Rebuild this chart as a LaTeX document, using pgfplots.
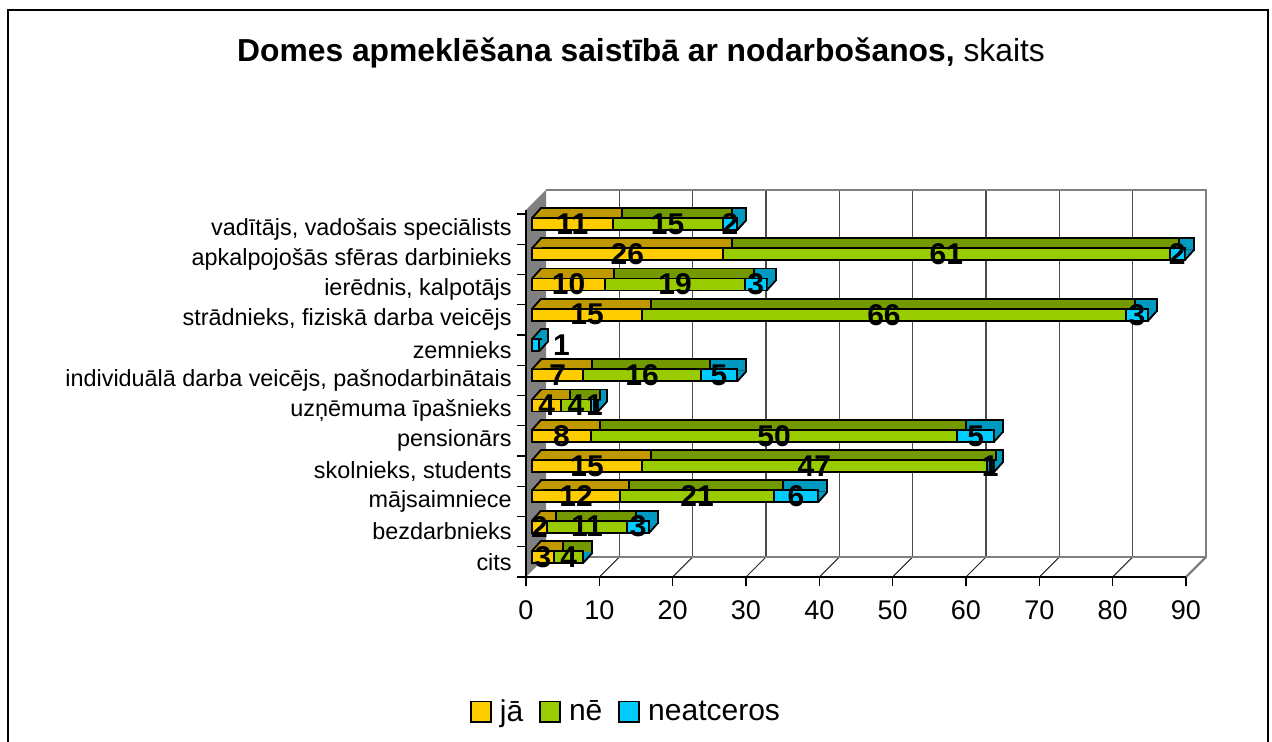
\documentclass[border=0pt]{standalone}
\usepackage{pgfplots}
\pgfplotsset{compat=1.18}
\usepackage{pgfplotstable}
\usepackage{fontspec}
\setmainfont{Liberation Sans}
\definecolor{jaF}{HTML}{FFCC00}
\definecolor{jaT}{HTML}{C09900}
\definecolor{neF}{HTML}{99CC00}
\definecolor{neT}{HTML}{739900}
\definecolor{ntF}{HTML}{00CCFF}
\definecolor{ntT}{HTML}{0099BF}
\definecolor{wallgray}{HTML}{808080}

% slanted left end of the top face
\pgfdeclareplotmark{leftface}{%
  \pgfpathmoveto{\pgfqpoint{0.45pt}{3.45pt}}%
  \pgfpathlineto{\pgfqpoint{4.05pt}{7.45pt}}%
  \pgfpathlineto{\pgfqpoint{4.95pt}{7.45pt}}%
  \pgfpathlineto{\pgfqpoint{4.95pt}{3.45pt}}%
  \pgfpathclose\pgfusepathqfill
  \pgfpathmoveto{\pgfqpoint{0pt}{3pt}}%
  \pgfpathlineto{\pgfqpoint{4.5pt}{8pt}}%
  \pgfusepathqstroke}
% slanted lower end of the right face
\pgfdeclareplotmark{rightface}{%
  \pgfpathmoveto{\pgfqpoint{0.45pt}{-2.5pt}}%
  \pgfpathlineto{\pgfqpoint{4.05pt}{1.5pt}}%
  \pgfpathlineto{\pgfqpoint{4.05pt}{2.5pt}}%
  \pgfpathlineto{\pgfqpoint{0.45pt}{2.5pt}}%
  \pgfpathclose\pgfusepathqfill
  \pgfpathmoveto{\pgfqpoint{0pt}{-3pt}}%
  \pgfpathlineto{\pgfqpoint{4.5pt}{2pt}}%
  \pgfusepathqstroke}

\pgfplotstableread{
k ja ne neat
0 3 4 0
1 2 11 3
2 12 21 6
3 15 47 1
4 8 50 5
5 4 4 1
6 7 16 5
7 0 0 1
8 15 66 3
9 10 19 3
10 26 61 2
11 11 15 2
}\counts

\pgfplotstableread{
x y lab
1.5 0 3
5 0 4
1 1 2
7.5 1 11
14.5 1 3
6 2 12
22.5 2 21
36 2 6
7.5 3 15
38.5 3 47
62.5 3 1
4 4 8
33 4 50
60.5 4 5
2 5 4
6 5 4
8.5 5 1
3.5 6 7
15 6 16
25.5 6 5
4 7 1
7.5 8 15
48 8 66
82.5 8 3
5 9 10
19.5 9 19
30.5 9 3
13 10 26
56.5 10 61
88 10 2
5.5 11 11
18.5 11 15
27 11 2
}\labels

\pgfplotsset{
  common/.style={
    scale only axis, width=330pt, height=183.5pt,
    xmin=0, xmax=90, ymin=-0.5, ymax=11.63,
    enlargelimits=false, clip=false,
  },
}

\begin{document}
\begin{tikzpicture}
\useasboundingbox (0,0) rectangle (636pt,371pt);
% frame
\draw[black, line width=1pt] (4pt,0pt) -- (4pt,366pt) -- (634pt,366pt) -- (634pt,0pt);
% title
\node[anchor=base, inner sep=0pt, font=\fontsize{15.9}{19}\selectfont] at (320.5pt,340pt)
  {\textbf{Domes apmeklēšana saistībā ar nodarbošanos,} skaits};

% ---------- background: walls, floor, axes ----------
\begin{axis}[common,
  at={(263pt,82.5pt)}, anchor=south west,
  axis x line*=bottom, axis y line*=left,
  axis line style={black, line width=0.6pt},
  xtick={0,10,...,90},
  ytick={-0.5,0.5,...,11.5},
  yticklabels={},
  extra y ticks={0,...,11},
  extra y tick labels={cits, bezdarbnieks, mājsaimniece, {skolnieks, students}, pensionārs, uzņēmuma īpašnieks, {individuālā darba veicējs, pašnodarbinātais}, zemnieks, {strādnieks, fiziskā darba veicējs}, {ierēdnis, kalpotājs}, apkalpojošās sfēras darbinieks, {vadītājs, vadošais speciālists}},
  extra y tick style={major tick length=0pt, yticklabel style={font=\fontsize{11.7}{13}\selectfont, anchor=east, inner sep=0pt, xshift=-7pt}},
  tick align=outside,
  major tick length=4.5pt,
  tick style={black, line width=0.6pt},
  xticklabel style={font=\fontsize{13.5}{16}\selectfont, yshift=-4pt},
  /pgf/number format/assume math mode=true,
  axis on top,
]
% side wall
\fill[wallgray] (axis cs:0,-0.5) -- (axis cs:0,11.63) -- ([shift={(10pt,10pt)}]axis cs:0,11.63) -- ([shift={(10pt,10pt)}]axis cs:0,-0.5) -- cycle;
% floor grid lines and back-wall grid lines
\pgfplotsinvokeforeach{10,20,30,40,50,60,70,80}{
  \draw[black!85, line width=0.5pt] (axis cs:#1,-0.5) -- ([shift={(10pt,10pt)}]axis cs:#1,-0.5);
  \draw[black!70, line width=0.6pt] ([shift={(10pt,10pt)}]axis cs:#1,-0.5) -- ([shift={(10pt,10pt)}]axis cs:#1,11.63);
}
% back wall edges
\draw[wallgray, line width=1.1pt] ([shift={(10pt,10pt)}]axis cs:0,11.63) -- ([shift={(10pt,10pt)}]axis cs:90,11.63) -- ([shift={(10pt,10pt)}]axis cs:90,-0.5) -- ([shift={(10pt,10pt)}]axis cs:0,-0.5);
\draw[wallgray, line width=1.1pt] (axis cs:90,-0.5) -- ([shift={(10pt,10pt)}]axis cs:90,-0.5);
\end{axis}

% ---------- bar depth (top and right faces) ----------
\begin{axis}[common, hide axis,
  at={(270.5pt,90pt)}, anchor=south west,
  xbar stacked, bar width=6pt,
]
\addplot[fill=jaT, draw=black, line width=0.9pt] table[x=ja, y=k] {\counts};
\addplot[fill=neT, draw=black, line width=0.9pt] table[x=ne, y=k] {\counts};
\addplot[fill=ntT, draw=black, line width=0.9pt] table[x=neat, y=k] {\counts};
\end{axis}

% ---------- bar fronts ----------
\begin{axis}[common, hide axis,
  at={(266pt,85pt)}, anchor=south west,
  xbar stacked, bar width=6pt,
  legend style={at={(0.144,-0.381)}, anchor=center, draw=none, fill=none,
    legend columns=-1, font=\fontsize{15}{18}\selectfont,
    /tikz/every even column/.append style={column sep=6pt}},
  legend image code/.code={\draw[#1, draw=black, line width=0.9pt] (0pt,-5.2pt) rectangle (10pt,5.2pt); \path (12pt,0pt);},
]
\addplot[fill=jaF, draw=black, line width=0.9pt] table[x=ja, y=k] {\counts};
\addlegendentry{jā}
\addplot[fill=neF, draw=black, line width=0.9pt] table[x=ne, y=k] {\counts};
\addlegendentry{nē}
\addplot[fill=ntF, draw=black, line width=0.9pt] table[x=neat, y=k] {\counts};
\addlegendentry{neatceros}
\end{axis}

% ---------- 3D bevels and data labels ----------
\begin{axis}[common, hide axis,
  at={(266pt,85pt)}, anchor=south west,
]
\addplot[only marks, mark=leftface, mark options={fill=jaT, draw=black, line width=0.9pt}]
  coordinates {(0,0) (0,1) (0,2) (0,3) (0,4) (0,5) (0,6) (0,8) (0,9) (0,10) (0,11)};
\addplot[only marks, mark=leftface, mark options={fill=ntT, draw=black, line width=0.9pt}]
  coordinates {(0,7)};
\addplot[only marks, mark=rightface, mark options={fill=ntT, draw=black, line width=0.9pt}]
  coordinates {(7,0) (16,1) (39,2) (63,3) (63,4) (9,5) (28,6) (1,7) (84,8) (32,9) (89,10) (28,11)};
\addplot[draw=none, mark=none, nodes near coords, point meta=explicit symbolic,
  every node near coord/.append style={anchor=center, inner sep=0pt, font=\bfseries\fontsize{15}{18}\selectfont}]
  table[x=x, y=y, meta=lab] {\labels};
\end{axis}
\end{tikzpicture}
\end{document}
